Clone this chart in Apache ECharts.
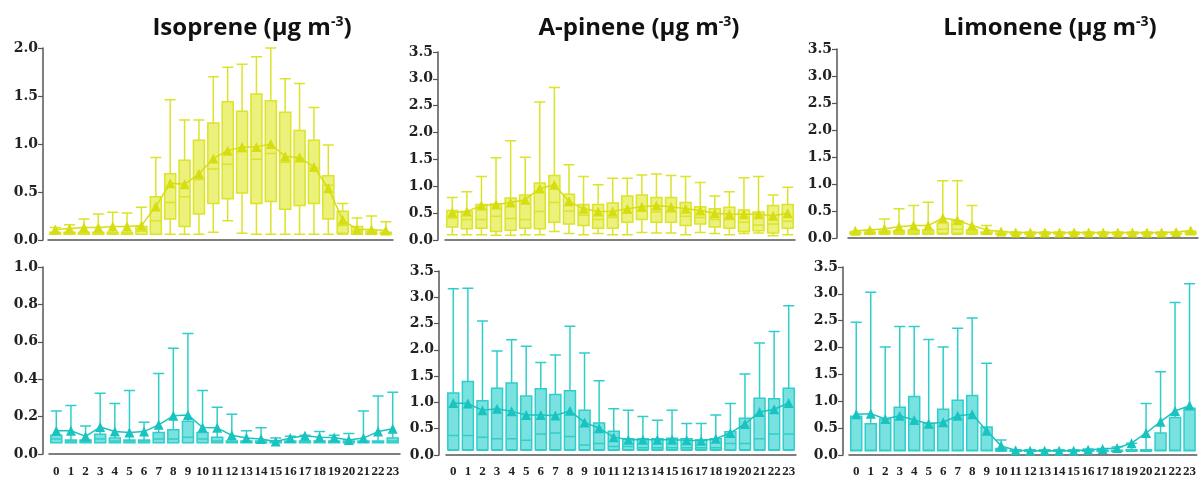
<!DOCTYPE html>
<html>
<head>
<meta charset="utf-8">
<script src="https://cdn.jsdelivr.net/npm/echarts@6/dist/echarts.min.js"></script>
<style>
html, body { margin: 0; padding: 0; background: #fff; }
#chart { width: 1199px; height: 478px; }
</style>
</head>
<body>
<div id="chart"></div>
<script>
var hours = ['0','1','2','3','4','5','6','7','8','9','10','11','12','13','14','15','16','17','18','19','20','21','22','23'];

// [min, q1, median, q3, max] per hour
var isoDay = [
	[.06,.06,.07,.08,.13],[.06,.06,.07,.08,.16],[.06,.06,.07,.08,.22],[.06,.06,.07,.08,.27],
	[.06,.06,.07,.08,.29],[.06,.06,.07,.08,.28],[.06,.06,.09,.14,.34],[.06,.06,.20,.45,.86],
	[.06,.22,.39,.69,1.46],[.06,.14,.45,.83,1.25],[.06,.27,.63,1.04,1.25],[.08,.38,.74,1.22,1.70],
	[.20,.43,.79,1.44,1.80],[.07,.49,.92,1.34,1.83],[.06,.38,.84,1.52,1.91],[.06,.40,.90,1.45,2.0],
	[.06,.32,.81,1.33,1.68],[.06,.36,.85,1.14,1.63],[.06,.38,.75,1.04,1.38],[.06,.22,.57,.67,.99],
	[.06,.07,.15,.30,.38],[.06,.06,.09,.14,.23],[.06,.06,.08,.09,.25],[.06,.06,.07,.08,.19]
];
var isoDayMean = [.11,.12,.13,.13,.14,.14,.15,.35,.59,.58,.69,.85,.93,.97,.97,1.0,.87,.86,.76,.54,.21,.11,.11,.10];

var isoNight = [
	[.06,.06,.08,.10,.23],[.06,.06,.07,.075,.26],[.06,.06,.07,.075,.15],[.06,.06,.08,.105,.325],
	[.06,.06,.07,.085,.27],[.06,.06,.07,.075,.34],[.06,.06,.07,.075,.17],[.06,.06,.08,.115,.43],
	[.06,.06,.08,.13,.565],[.06,.06,.09,.175,.645],[.06,.06,.08,.115,.34],[.06,.06,.07,.09,.25],
	[.06,.06,.065,.07,.213],[.06,.06,.065,.07,.124],[.06,.06,.065,.07,.14],[.06,.06,.065,.07,.085],
	[.06,.06,.065,.07,.095],[.06,.06,.065,.07,.10],[.06,.06,.065,.07,.12],[.06,.06,.065,.07,.10],
	[.06,.06,.065,.07,.11],[.06,.06,.065,.07,.23],[.06,.06,.065,.07,.31],[.06,.06,.07,.085,.33]
];
var isoNightMean = [.124,.124,.094,.144,.12,.115,.12,.156,.204,.209,.142,.14,.10,.085,.08,.067,.085,.097,.09,.088,.075,.085,.12,.135];

var pinDay = [
	[.10,.24,.41,.55,.79],[.10,.21,.38,.53,.90],[.10,.22,.38,.66,1.18],[.09,.16,.44,.67,1.53],
	[.09,.18,.40,.78,1.85],[.10,.22,.38,.84,1.54],[.10,.21,.53,1.06,2.57],[.16,.33,.70,1.20,2.84],
	[.12,.30,.54,.85,1.40],[.10,.27,.46,.66,1.18],[.12,.22,.38,.66,1.03],[.10,.22,.42,.69,1.15],
	[.10,.33,.50,.82,1.15],[.14,.38,.54,.84,1.21],[.13,.33,.52,.79,1.23],[.13,.33,.52,.79,1.20],
	[.10,.27,.44,.70,1.18],[.14,.30,.42,.62,1.07],[.12,.24,.38,.58,.82],[.10,.22,.38,.61,.90],
	[.12,.16,.33,.56,1.16],[.13,.17,.28,.52,1.18],[.08,.13,.30,.64,.84],[.10,.22,.35,.66,.98]
];
var pinDayMean = [.51,.53,.64,.66,.70,.75,.96,1.03,.72,.58,.53,.53,.58,.62,.64,.62,.58,.55,.50,.48,.48,.48,.45,.50];

var pinNight = [
	[.09,.10,.37,1.18,3.16],[.09,.10,.37,1.40,3.17],[.09,.10,.34,1.03,2.55],[.09,.10,.31,1.27,1.98],
	[.09,.10,.31,1.37,2.19],[.09,.10,.28,1.12,2.07],[.09,.10,.40,1.26,1.76],[.09,.10,.42,1.15,1.90],
	[.09,.10,.35,1.22,2.45],[.09,.10,.19,.85,1.94],[.09,.10,.22,.61,1.41],[.09,.10,.16,.45,.88],
	[.09,.10,.16,.31,.85],[.09,.10,.14,.31,.73],[.09,.10,.14,.31,.66],[.09,.10,.14,.32,.85],
	[.09,.10,.14,.31,.60],[.09,.10,.14,.29,.60],[.09,.10,.14,.31,.76],[.09,.10,.22,.44,.98],
	[.09,.10,.22,.70,1.54],[.09,.10,.31,1.08,2.13],[.09,.10,.40,1.07,2.35],[.09,.10,.40,1.27,2.84]
];
var pinNightMean = [.99,.98,.85,.88,.83,.76,.76,.75,.84,.62,.51,.34,.29,.29,.29,.29,.28,.27,.31,.42,.59,.82,.87,.99];

var limDay = [
	[.07,.08,.09,.10,.12],[.07,.08,.09,.11,.15],[.07,.08,.10,.13,.35],[.07,.08,.10,.14,.54],
	[.07,.08,.11,.15,.60],[.07,.08,.11,.15,.66],[.07,.09,.16,.28,1.06],[.07,.09,.16,.32,1.06],
	[.07,.08,.11,.15,.60],[.07,.08,.09,.11,.23],[.07,.08,.085,.09,.12],[.07,.08,.085,.09,.11],
	[.07,.08,.085,.09,.11],[.07,.08,.085,.09,.11],[.07,.08,.085,.09,.11],[.07,.08,.085,.09,.11],
	[.07,.08,.085,.09,.11],[.07,.08,.085,.09,.11],[.07,.08,.085,.09,.11],[.07,.08,.085,.09,.11],
	[.07,.08,.085,.09,.11],[.07,.08,.085,.09,.11],[.07,.08,.085,.09,.11],[.07,.08,.09,.10,.13]
];
var limDayMean = [.135,.15,.17,.21,.23,.23,.37,.33,.23,.15,.12,.10,.10,.10,.10,.10,.10,.10,.10,.10,.10,.10,.11,.14];

var limNight = [
	[.08,.08,.09,.72,2.47],[.08,.08,.09,.58,3.03],[.08,.08,.09,.67,2.01],[.08,.08,.09,.89,2.39],
	[.08,.08,.09,1.09,2.39],[.08,.08,.09,.59,2.15],[.08,.08,.09,.85,2.01],[.08,.08,.09,1.02,2.36],
	[.08,.08,.09,1.11,2.55],[.08,.08,.09,.52,1.71],[.07,.08,.09,.12,.28],[.07,.07,.08,.09,.10],
	[.07,.07,.08,.09,.10],[.07,.07,.08,.09,.10],[.07,.07,.08,.09,.10],[.07,.07,.08,.09,.10],
	[.07,.07,.08,.09,.11],[.07,.07,.08,.09,.12],[.07,.07,.08,.09,.15],[.07,.08,.09,.10,.22],
	[.07,.08,.09,.10,.96],[.08,.08,.09,.41,1.55],[.08,.08,.09,.70,2.84],[.08,.08,.09,.87,3.19]
];
var limNightMean = [.76,.77,.67,.73,.65,.58,.61,.73,.76,.45,.17,.09,.08,.08,.08,.08,.10,.11,.13,.22,.41,.62,.82,.92];

var titles = ['Isoprene', 'A-pinene', 'Limonene'];

var yellow = { line: '#dce42a', fill: 'rgba(226,234,60,0.68)', mean: '#d6de12' };
var cyan = { line: '#30cecb', fill: 'rgba(45,210,206,0.64)', mean: '#19c4c0' };

// panel layout: grid box, y axis offset, x axis offset, y max, y step
var panels = [
	{ box: isoDay, mean: isoDayMean, c: yellow, left: 48, top: 48, w: 345, h: 192, yo: 5, xo: 7, max: 2.0, step: 0.5, lab: false },
	{ box: pinDay, mean: pinDayMean, c: yellow, left: 445, top: 52, w: 350, h: 188, yo: 7, xo: 8, max: 3.5, step: 0.5, lab: false },
	{ box: limDay, mean: limDayMean, c: yellow, left: 848, top: 49, w: 350, h: 189, yo: 11, xo: 5, max: 3.5, step: 0.5, lab: false },
	{ box: isoNight, mean: isoNightMean, c: cyan, left: 49, top: 267, w: 351, h: 187, yo: 6, xo: 6, max: 1.0, step: 0.2, lab: true },
	{ box: pinNight, mean: pinNightMean, c: cyan, left: 446, top: 271, w: 350, h: 187, yo: 7, xo: 5, max: 3.5, step: 0.5, lab: true },
	{ box: limNight, mean: limNightMean, c: cyan, left: 849, top: 267, w: 350, h: 189, yo: 6, xo: 5, max: 3.5, step: 0.5, lab: true }
];

var chart = echarts.init(document.getElementById('chart'));
var grid = [], xAxis = [], yAxis = [], series = [];
var axisColor = '#555';

panels.forEach(function(p, i) {
	grid.push({ left: p.left, top: p.top, width: p.w, height: p.h });
	xAxis.push({
		type: 'category', gridIndex: i, data: hours, boundaryGap: true, offset: p.xo,
		axisLine: { lineStyle: { color: axisColor, width: 1.5 } },
		axisTick: { length: 5, lineStyle: { color: axisColor, width: 1.2 } },
		axisLabel: { show: p.lab, interval: 0, margin: 5, color: '#222', fontFamily: 'Liberation Serif', fontWeight: 'bold', fontSize: 13 },
		splitLine: { show: false }
	});
	yAxis.push({
		type: 'value', gridIndex: i, min: 0, max: p.max, interval: p.step, offset: p.yo,
		axisLine: { show: true, lineStyle: { color: axisColor, width: 1.5 } },
		axisTick: { show: true, length: 5, lineStyle: { color: axisColor, width: 1.2 } },
		axisLabel: { margin: 5, color: '#222', fontFamily: 'DejaVu Serif', fontWeight: 'bold', fontSize: 14,
			formatter: function(v) { return v.toFixed(1); } },
		splitLine: { show: false }
	});
	series.push({
		type: 'boxplot', xAxisIndex: i, yAxisIndex: i, data: p.box,
		boxWidth: [11, 11],
		itemStyle: { color: p.c.fill, borderColor: p.c.line, borderWidth: 1.5 },
		emphasis: { disabled: true }
	});
	series.push({
		type: 'line', xAxisIndex: i, yAxisIndex: i, data: p.mean,
		symbol: 'triangle', symbolSize: 10, showSymbol: true, showAllSymbol: true, z: 5,
		lineStyle: { color: p.c.mean, width: 1.5 },
		itemStyle: { color: p.c.mean }
	});
});

var titleX = [247, 634, 1045];
var title = titles.map(function(t, i) {
	return {
		text: t + ' (µg m{sup|-3})', left: titleX[i], top: 10, textAlign: 'center',
		textStyle: { fontFamily: 'Open Sans', fontWeight: 'bold', fontSize: 24, color: '#111',
			rich: { sup: { fontFamily: 'Open Sans', fontWeight: 'bold', fontSize: 14, color: '#111', verticalAlign: 'top', padding: [0, 0, 12, 0] } } }
	};
});

chart.setOption({
	animation: false,
	title: title,
	grid: grid,
	xAxis: xAxis,
	yAxis: yAxis,
	series: series
});
</script>
</body>
</html>
